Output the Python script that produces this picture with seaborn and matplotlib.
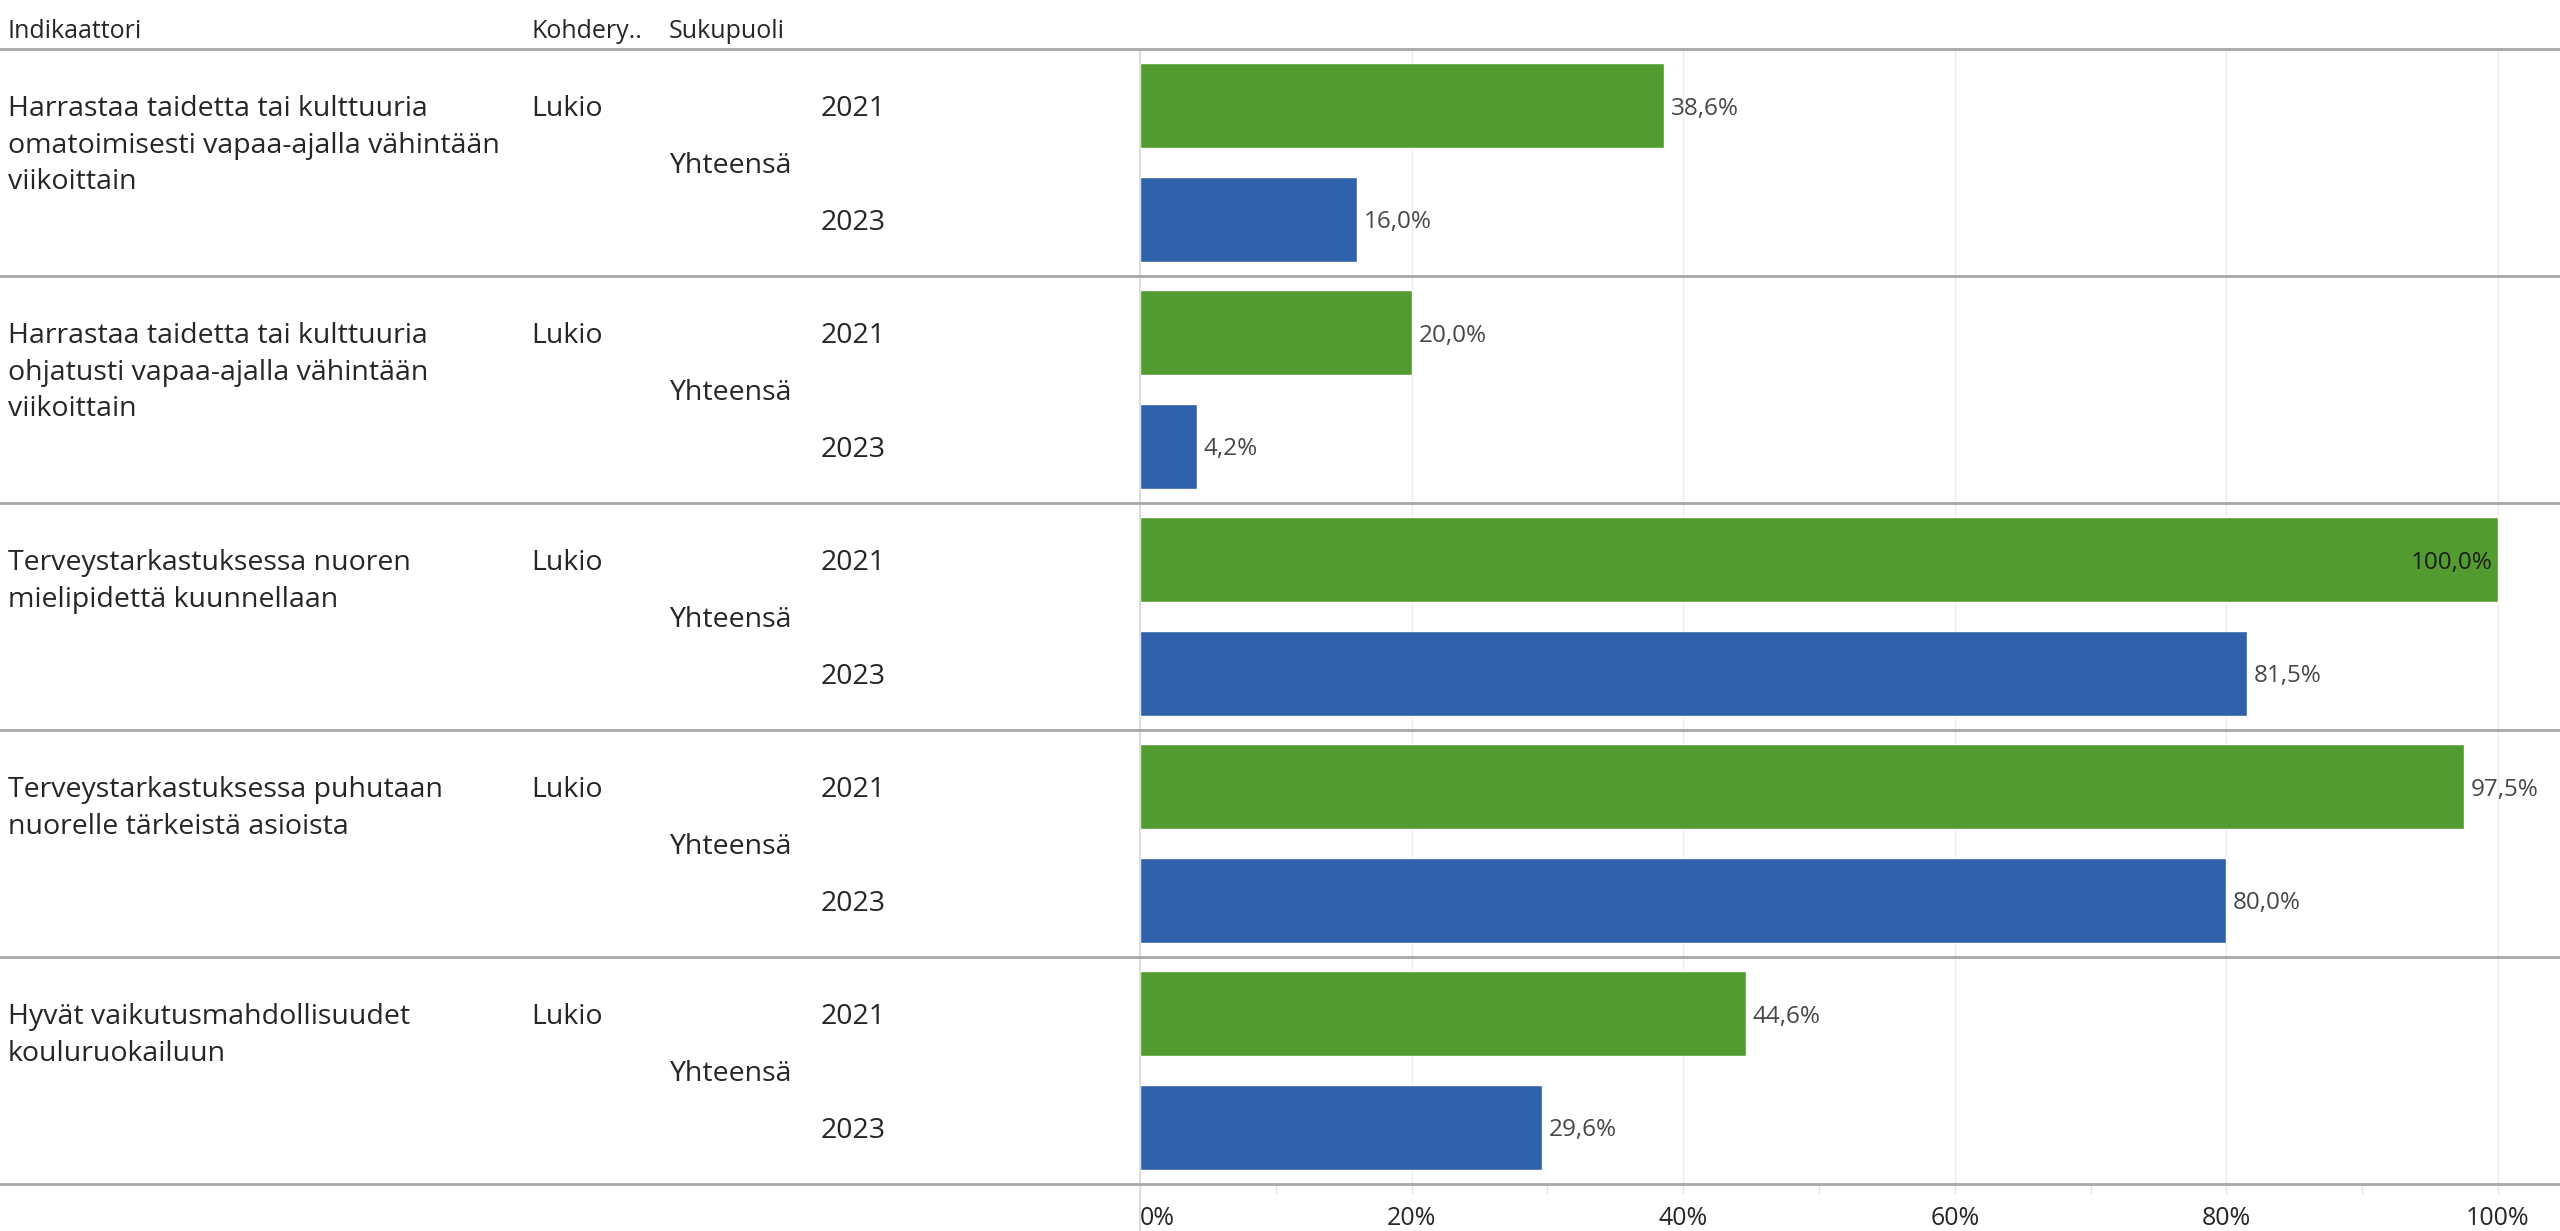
import matplotlib
matplotlib.use("Agg")
import matplotlib.pyplot as plt
import matplotlib.transforms as mtransforms
from matplotlib.lines import Line2D
from matplotlib.ticker import MultipleLocator
import pandas as pd
import seaborn as sns

# --- data ---
headers = ["Indikaattori", "Kohdery..", "Sukupuoli"]
indicators = [
    "Harrastaa taidetta tai kulttuuria\nomatoimisesti vapaa-ajalla vähintään\nviikoittain",
    "Harrastaa taidetta tai kulttuuria\nohjatusti vapaa-ajalla vähintään\nviikoittain",
    "Terveystarkastuksessa nuoren\nmielipidettä kuunnellaan",
    "Terveystarkastuksessa puhutaan\nnuorelle tärkeistä asioista",
    "Hyvät vaikutusmahdollisuudet\nkouluruokailuun",
]
target_group = "Lukio"
gender = "Yhteensä"
years = ["2021", "2023"]
values_2021 = [38.6, 20.0, 100.0, 97.5, 44.6]
values_2023 = [16.0, 4.2, 81.5, 80.0, 29.6]
x_ticks = [0, 20, 40, 60, 80, 100]
x_tick_labels = ["0%", "20%", "40%", "60%", "80%", "100%"]

year_colors = {"2021": "#529b30", "2023": "#2f62ab"}
text_color = "#262626"
label_color = "#474747"
sep_color = "#a8a8a8"

rows = []
for i, ind in enumerate(indicators):
    rows.append({"bar": f"{i}-2021", "year": "2021", "value": values_2021[i]})
    rows.append({"bar": f"{i}-2023", "year": "2023", "value": values_2023[i]})
df = pd.DataFrame(rows)

sns.set_theme(style="white")
plt.rcParams["font.family"] = ["Open Sans", "DejaVu Sans"]

W, H = 2560, 1231
fig = plt.figure(figsize=(W / 100, H / 100), dpi=100)
ax_left_px, ax_top_px, ax_bot_px = 1140, 49, 1184
ax = fig.add_axes([ax_left_px / W, 1 - ax_bot_px / H,
                   (W - ax_left_px) / W, (ax_bot_px - ax_top_px) / H])

sns.barplot(data=df, y="bar", x="value", hue="year", palette=year_colors,
            dodge=False, width=0.75, orient="h", saturation=1,
            legend=False, ax=ax)

px_per_pct = 13.58
ax.set_xlim(0, (W - ax_left_px) / px_per_pct)
ax.set_ylim(len(df) - 0.5, -0.5)
slot_px = (ax_bot_px - ax_top_px) / len(df)

fs_head = 18
fs_body = 20.5
fs_label = 17.5
fs_tick = 18

# value labels
for j, row in df.iterrows():
    v = row["value"]
    txt = f"{v:.1f}".replace(".", ",") + "%"
    if v >= 99:
        ax.text(v - 0.4, j, txt, ha="right", va="center_baseline",
                fontsize=fs_label, color="#1e1e1e")
    else:
        ax.text(v + 0.5, j, txt, ha="left", va="center_baseline",
                fontsize=fs_label, color=label_color)

# axes styling
for s in ax.spines.values():
    s.set_visible(False)
ax.set_xlabel("")
ax.set_ylabel("")
ax.tick_params(axis="y", left=False, labelleft=False)
ax.set_xticks(x_ticks, labels=x_tick_labels)
ax.xaxis.set_minor_locator(MultipleLocator(10))
ax.tick_params(axis="x", which="both", bottom=True, length=7, width=1,
               color="#e2e2e2", pad=9, labelsize=fs_tick, labelcolor=text_color)
ax.get_xticklabels()[0].set_horizontalalignment("left")
ax.grid(axis="x", which="major", color="#ececec", lw=1)
ax.set_axisbelow(True)

# left text columns
tr = mtransforms.blended_transform_factory(fig.transFigure, ax.transData)
col_x = [8 / W, 531 / W, 669 / W]
year_x = 821 / W
header_y = -0.5 - (49 - 28) / slot_px
line_step = 36.5 / slot_px
for x, h in zip(col_x, headers):
    ax.text(x, header_y, h, transform=tr, ha="left", va="center_baseline",
            fontsize=fs_head, color=text_color, clip_on=False)

for i, ind in enumerate(indicators):
    y0 = 2 * i
    for k, line in enumerate(ind.split("\n")):
        ax.text(col_x[0], y0 + k * line_step, line, transform=tr, ha="left",
                va="center_baseline", fontsize=fs_body, color=text_color,
                clip_on=False)
    ax.text(col_x[1], y0, target_group, transform=tr, ha="left",
            va="center_baseline", fontsize=fs_body, color=text_color,
            clip_on=False)
    ax.text(col_x[2], y0 + 0.5, gender, transform=tr, ha="left",
            va="center_baseline", fontsize=fs_body, color=text_color,
            clip_on=False)
    for k, yr in enumerate(years):
        ax.text(year_x, y0 + k, yr, transform=tr, ha="left",
                va="center_baseline", fontsize=fs_body, color=text_color,
                clip_on=False)

# row separators across the whole width
for b in range(len(indicators) + 1):
    yb = 2 * b - 0.5
    fig.add_artist(Line2D([0, 1], [yb, yb], transform=tr, color=sep_color,
                          lw=2, zorder=5))

# zero line running down into the tick area
trv = mtransforms.blended_transform_factory(ax.transData, fig.transFigure)
fig.add_artist(Line2D([0, 0], [0, 1 - ax_top_px / H], transform=trv,
                      color="#d8d8d8", lw=1.2, zorder=4))

fig.savefig("out.png", dpi=100, facecolor="white")
